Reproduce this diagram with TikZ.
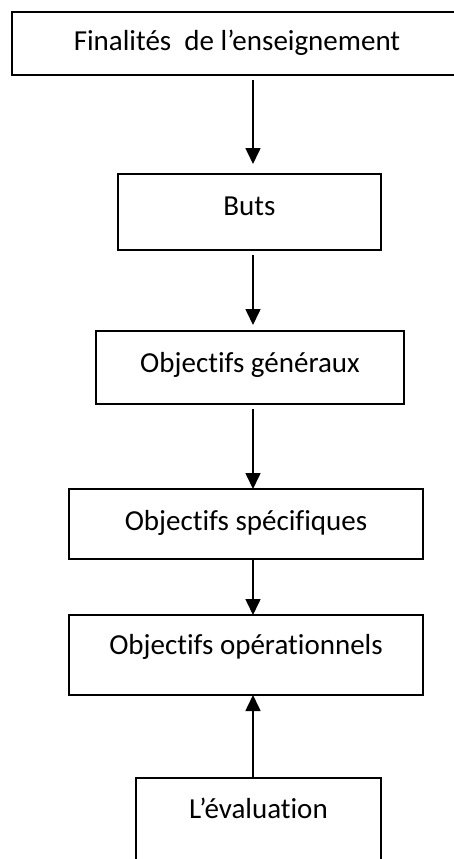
\documentclass[tikz,border=0pt]{standalone}
\usepackage{fontspec}
\setmainfont{Carlito}[Ligatures=NoCommon]
\usetikzlibrary{arrows.meta}
\begin{document}
\begin{tikzpicture}[x=1pt,y=-1pt,
  level/.style={draw, line width=1.1pt, inner xsep=0pt, inner ysep=0pt, outer sep=0pt,
    anchor=base, font=\fontsize{29}{33}\selectfont},
  flow/.style={line width=1.6pt, -{Triangle[length=16pt,width=15pt]}}]
\useasboundingbox (0,0) rectangle (454,859);
\clip (0,0) rectangle (454,859);
\fill[white] (0,0) rectangle (454,859);

% one box per level, text placed on its baseline near the top
\node[level, minimum width=450pt, text height=39pt, text depth=24pt] (fin) at (237,51) {Finalités\ \ de l’enseignement};
\node[level, minimum width=263pt, text height=41pt, text depth=35pt] (buts) at (249.5,215) {Buts};
\node[level, minimum width=308pt, text height=41pt, text depth=32pt] (gen) at (250,372) {Objectifs généraux};
\node[level, minimum width=354pt, text height=41pt, text depth=29pt] (spe) at (246,530) {Objectifs spécifiques};
\node[level, minimum width=354pt, text height=39pt, text depth=41pt] (ope) at (246,654) {Objectifs opérationnels};
\node[level, minimum width=245pt, text height=40pt, text depth=52pt] (eva) at (258.5,818) {L’évaluation};

\coordinate (ax) at (253,0);

\draw[flow, shorten <=5pt, shorten >=10pt] (fin.south -| ax) -- (buts.north -| ax);
\draw[flow, shorten <=5pt, shorten >=6pt] (buts.south -| ax) -- (gen.north -| ax);
\draw[flow, shorten <=5pt] (gen.south -| ax) -- (spe.north -| ax);
\draw[flow] (spe.south -| ax) -- (ope.north -| ax);
\draw[flow] (eva.north -| ax) -- (ope.south -| ax);
\end{tikzpicture}
\end{document}
